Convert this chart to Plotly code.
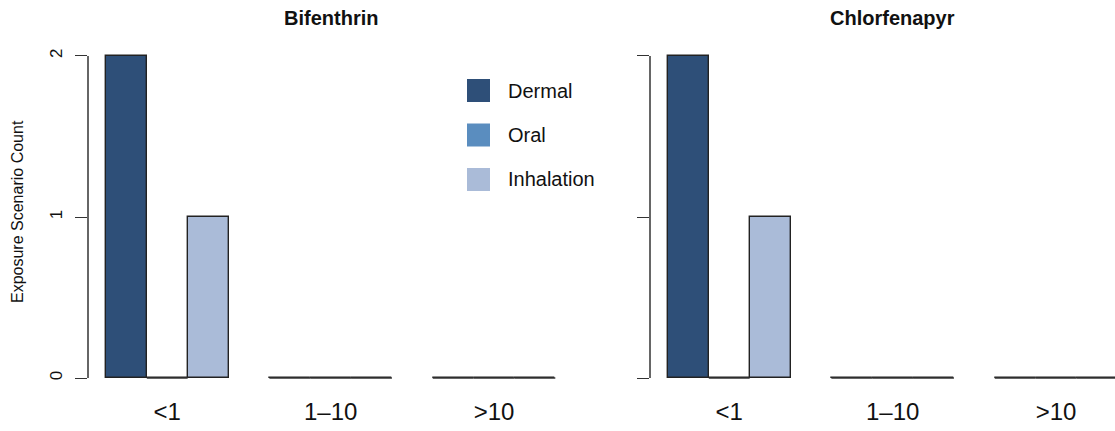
import plotly.graph_objects as go

# Exposure scenario counts per margin-of-exposure bin
categories = ["<1", "1\u201310", ">10"]
series_names = ["Dermal", "Oral", "Inhalation"]
series_colors = ["#2e4f78", "#5a8dbf", "#aabbd8"]
panel_titles = ["Bifenthrin", "Chlorfenapyr"]

bifenthrin_dermal = [2, 0, 0]
bifenthrin_oral = [0, 0, 0]
bifenthrin_inhalation = [1, 0, 0]

chlorfenapyr_dermal = [2, 0, 0]
chlorfenapyr_oral = [0, 0, 0]
chlorfenapyr_inhalation = [1, 0, 0]

y_ticks = [0, 1, 2]

panel_data = [
    [bifenthrin_dermal, bifenthrin_oral, bifenthrin_inhalation],
    [chlorfenapyr_dermal, chlorfenapyr_oral, chlorfenapyr_inhalation],
]

W, H = 1115, 431
FONT = "Liberation Sans, Arial, Helvetica, sans-serif"
OUTLINE = "#222222"

# grouped-bar geometry: one empty unit between groups, unit bar width
n_series = len(series_names)
group_step = n_series + 1


def bar_center(g, s):
    return 1 + group_step * g + s + 0.5


def group_center(g):
    return 1 + group_step * g + n_series / 2


x_lo = 0.56
x_hi = 12.44
y_lo, y_hi = -0.08, 2.08

# pixel layout of the two plot regions
px_per_unit = 40.85
left_x0 = 88
right_x0 = 650
plot_top, plot_bottom = 43, 391

fig = go.Figure()

axis_ids = [("x", "y"), ("x2", "y2")]
for p, series_list in enumerate(panel_data):
    xa, ya = axis_ids[p]
    for s, vals in enumerate(series_list):
        xs = [bar_center(g, s) for g in range(len(categories))]
        fig.add_trace(go.Bar(
            x=xs, y=vals, width=1.0,
            marker=dict(color=series_colors[s], line=dict(color=OUTLINE, width=1.4)),
            name=series_names[s], showlegend=False,
            xaxis=xa, yaxis=ya,
        ))
        # zero-height bars still show their outline along the baseline
        lx, ly = [], []
        for x, v in zip(xs, vals):
            if v == 0:
                lx += [x - 0.5, x + 0.5, None]
                ly += [v, v, None]
        if lx:
            fig.add_trace(go.Scatter(
                x=lx, y=ly, mode="lines",
                line=dict(color="#333333", width=1.5),
                showlegend=False, hoverinfo="skip",
                xaxis=xa, yaxis=ya,
            ))

ydom = [(H - plot_bottom) / H, (H - plot_top) / H]
left_dom = [left_x0 / W, (left_x0 + (x_hi - x_lo) * px_per_unit) / W]
right_dom = [right_x0 / W, 1.0]
right_hi = x_lo + (W - right_x0) / px_per_unit


def y_to_paper(v):
    return ydom[0] + (v - y_lo) / (y_hi - y_lo) * (ydom[1] - ydom[0])


xaxis_common = dict(
    tickvals=[group_center(g) for g in range(len(categories))],
    ticktext=categories,
    showgrid=False, zeroline=False, showline=False, ticks="",
    tickfont=dict(family=FONT, size=24, color="#111111"),
    ticklabelstandoff=4,
    fixedrange=True,
)
yaxis_common = dict(
    range=[y_lo, y_hi], domain=ydom,
    tickvals=y_ticks,
    showgrid=False, zeroline=False, showline=False,
    ticks="outside", ticklen=12, tickwidth=1.4, tickcolor="#333333",
    fixedrange=True,
)

fig.update_layout(
    width=W, height=H,
    margin=dict(l=0, r=0, t=0, b=0),
    paper_bgcolor="white", plot_bgcolor="white",
    bargap=0, barmode="overlay",
    showlegend=False,
    xaxis=dict(domain=left_dom, range=[x_lo, x_hi], anchor="y", **xaxis_common),
    xaxis2=dict(domain=right_dom, range=[x_lo, right_hi], anchor="y2", **xaxis_common),
    yaxis=dict(anchor="x", tickangle=-90, ticklabelstandoff=6,
               tickfont=dict(family=FONT, size=17, color="#111111"),
               **yaxis_common),
    yaxis2=dict(anchor="x2", showticklabels=False, **yaxis_common),
)

# axis lines spanning only the tick range
for dom in [left_dom, right_dom]:
    fig.add_shape(type="line", xref="paper", yref="paper",
                  x0=dom[0], x1=dom[0],
                  y0=y_to_paper(y_ticks[0]), y1=y_to_paper(y_ticks[-1]),
                  line=dict(color="#333333", width=1.5))

# panel titles
for p, title in enumerate(panel_titles):
    x0 = left_x0 if p == 0 else right_x0
    centre = (x0 + (x_hi - x_lo) * px_per_unit / 2) / W
    fig.add_annotation(
        text="<b>%s</b>" % title, x=centre, y=(H - 18) / H,
        xref="paper", yref="paper", showarrow=False,
        xanchor="center", yanchor="middle",
        font=dict(family=FONT, size=20, color="#111111"),
    )

# y-axis title
fig.add_annotation(
    text="Exposure Scenario Count", textangle=-90,
    x=17 / W, y=(H - 212) / H, xref="paper", yref="paper",
    showarrow=False, xanchor="center", yanchor="middle",
    font=dict(family=FONT, size=16, color="#111111"),
)

# legend: filled squares with labels
leg_x0, leg_size, leg_top, leg_step = 467, 23, 79, 44.5
for s, (name, col) in enumerate(zip(series_names, series_colors)):
    top = leg_top + s * leg_step
    fig.add_shape(type="rect", xref="paper", yref="paper",
                  x0=leg_x0 / W, x1=(leg_x0 + leg_size) / W,
                  y0=(H - top - leg_size) / H, y1=(H - top) / H,
                  fillcolor=col, line=dict(width=0))
    fig.add_annotation(
        text=name, x=(leg_x0 + leg_size + 16) / W, y=(H - top - leg_size / 2) / H,
        xref="paper", yref="paper", showarrow=False,
        xanchor="left", yanchor="middle",
        font=dict(family=FONT, size=20, color="#111111"),
    )

fig.write_html("out.html")
